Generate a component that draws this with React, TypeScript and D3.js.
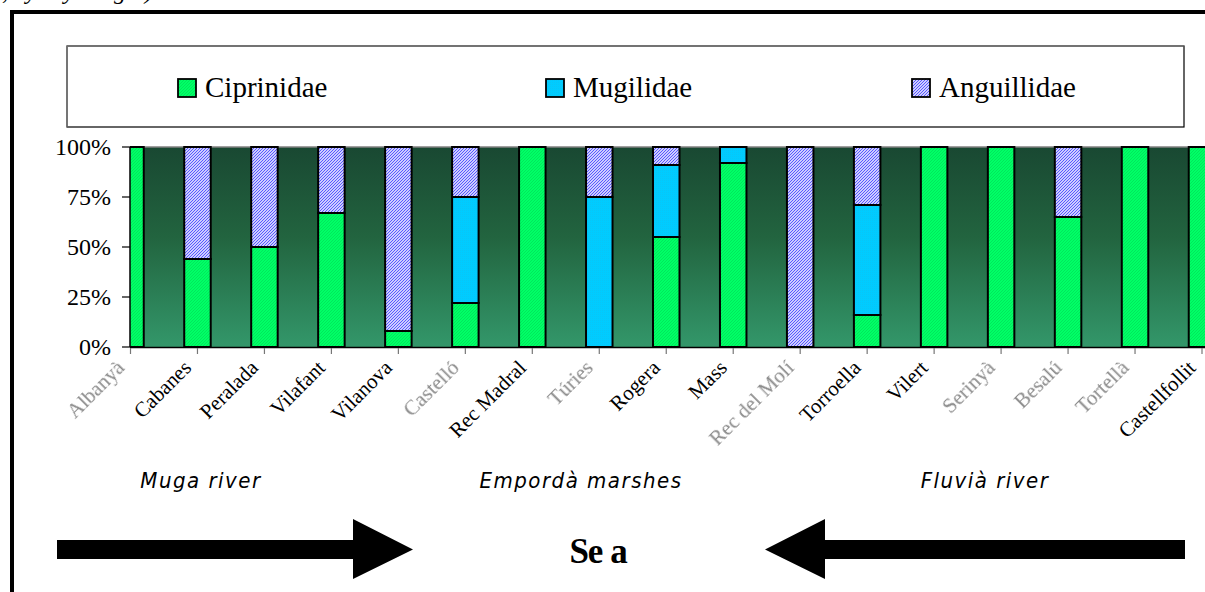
import React from "react";
import * as d3 from "d3";

const sites = ["Albanyà","Cabanes","Peralada","Vilafant","Vilanova","Castelló","Rec Madral","Túries","Rogera","Mass","Rec del Molí","Torroella","Vilert","Serinyà","Besalú","Tortellà","Castellfollit"];
const faded = ["Albanyà","Castelló","Túries","Rec del Molí","Serinyà","Besalú","Tortellà"];
const ciprinidae = [100,44,50,67,8,22,100,0,55,92,0,16,100,100,65,100,100];
const mugilidae  = [0,0,0,0,0,53,0,75,36,8,0,55,0,0,0,0,0];
const anguillidae= [0,56,50,33,92,25,0,25,9,0,100,29,0,0,35,0,0];
const families = ["Ciprinidae","Mugilidae","Anguillidae"];
const yTicks = [0,25,50,75,100];
const regions = ["Muga river","Empordà marshes","Fluvià river"];

const W = 1205, H = 592;
const serif = "'Liberation Serif','Times New Roman',serif";

export default function App() {
  const x = d3.scalePoint<string>().domain(sites).range([130.5, 1202]);
  const y = d3.scaleLinear().domain([0, 100]).range([347, 147]);
  const bw = 26.5;
  const rows = sites.map((s, i) => ({ site: s, Ciprinidae: ciprinidae[i], Mugilidae: mugilidae[i], Anguillidae: anguillidae[i] }));
  const stack = d3.stack<any>().keys(families)(rows);
  const fills: Record<string, string> = { Ciprinidae: "url(#pC)", Mugilidae: "url(#pM)", Anguillidae: "url(#pA)" };
  const legendX = [178, 546, 912];
  const regionX = [201, 581, 985];

  return (
    <svg width={W} height={H} style={{ position: "absolute", left: 0, top: 0, background: "#fff" }} fontFamily={serif}>
      <defs>
        <linearGradient id="bg" x1="0" y1="0" x2="0" y2="1">
          <stop offset="0" stopColor="#194832" />
          <stop offset="0.45" stopColor="#22643f" />
          <stop offset="1" stopColor="#33976a" />
        </linearGradient>
        <pattern id="pC" width="3" height="3" patternUnits="userSpaceOnUse">
          <rect width="3" height="3" fill="#00ff66" />
          <path d="M0,3 L3,0" stroke="#00dc58" strokeWidth="0.7" />
        </pattern>
        <pattern id="pM" width="2" height="2" patternUnits="userSpaceOnUse">
          <rect width="2" height="2" fill="#00ccff" />
          <rect width="1" height="1" fill="#08c6f6" />
        </pattern>
        <pattern id="pA" width="3" height="3" patternUnits="userSpaceOnUse">
          <rect width="3" height="3" fill="#ffffff" />
          <path d="M0,3 L3,0 M-1,1 L1,-1 M2,4 L4,2" stroke="#5050ff" strokeWidth="1.1" />
        </pattern>
        <clipPath id="plot">
          <rect x={130} y={146} width={1100} height={202} />
        </clipPath>
        <filter id="blur" x="-10%" y="-10%" width="120%" height="120%">
          <feGaussianBlur stdDeviation="0.7" />
        </filter>
      </defs>

      {/* cut-off caption line above the frame */}
      <text x={-6} y={-1} fontSize={24} fontStyle="italic" fill="#000">), by dry weight)</text>

      {/* outer frame */}
      <rect x={12} y={12} width={1210} height={600} fill="none" stroke="#000" strokeWidth={4} />

      {/* legend */}
      <rect x={67} y={46} width={1117} height={81} fill="#fff" stroke="#000" strokeWidth={1.2} />
      <line x1={67} y1={46} x2={1184} y2={46} stroke="#808080" strokeWidth={1.2} />
      <line x1={67} y1={46} x2={67} y2={127} stroke="#808080" strokeWidth={1.2} />
      {families.map((f, i) => (
        <g key={f}>
          <rect x={legendX[i]} y={79} width={18} height={18} fill={fills[f]} stroke="#000" strokeWidth={1.8} />
          <text x={legendX[i] + 27} y={97} fontSize={29}>{f}</text>
        </g>
      ))}

      {/* plot background */}
      <rect x={130} y={147} width={1100} height={200} fill="url(#bg)" />
      <line x1={130} y1={147} x2={1205} y2={147} stroke="#808080" strokeWidth={1.5} />

      {/* bars */}
      <g clipPath="url(#plot)">
        {stack.map((layer) =>
          layer.map((d, i) => {
            if (d[1] - d[0] <= 0) return null;
            const cx = x(sites[i])!;
            return (
              <rect key={layer.key + i} x={cx - bw / 2} y={y(d[1])} width={bw} height={y(d[0]) - y(d[1])}
                fill={fills[layer.key]} stroke="#000" strokeWidth={2} />
            );
          })
        )}
      </g>

      {/* axes */}
      <line x1={130} y1={147} x2={130} y2={347} stroke="#000" strokeWidth={1.5} />
      <line x1={130} y1={347.5} x2={1205} y2={347.5} stroke="#000" strokeWidth={1.5} />
      {yTicks.map((t) => (
        <g key={t}>
          <line x1={122} y1={y(t)} x2={130} y2={y(t)} stroke="#000" strokeWidth={1.2} />
          <text x={111} y={y(t) + 8} fontSize={24} textAnchor="end">{t}%</text>
        </g>
      ))}
      {sites.map((s) => {
        const cx = x(s)!;
        const isFaded = faded.includes(s);
        return (
          <g key={s}>
            <line x1={cx} y1={348} x2={cx} y2={354} stroke="#777" strokeWidth={1.2} />
            <text transform={`translate(${cx - 5},${369}) rotate(-45)`} textAnchor="end" fontSize={21}
              fill={isFaded ? "#8a8a8a" : "#000"} filter={isFaded ? "url(#blur)" : undefined}>{s}</text>
          </g>
        );
      })}

      {/* region labels */}
      {regions.map((r, i) => (
        <text key={r} x={regionX[i]} y={488} textAnchor="middle" fontSize={22} fontStyle="italic"
          letterSpacing={1.5} fontFamily="'Liberation Sans Narrow','DejaVu Sans Condensed',sans-serif">{r}</text>
      ))}

      {/* arrows toward the sea */}
      <path d="M57,540 L353,540 L353,519 L413,549.5 L353,579 L353,559 L57,559 Z" fill="#000" />
      <path d="M1185,540 L825,540 L825,519 L765,549.5 L825,579 L825,559 L1185,559 Z" fill="#000" />
      <text x={598} y={563} textAnchor="middle" fontSize={35} fontWeight="bold" letterSpacing={-1}>Se a</text>
    </svg>
  );
}
